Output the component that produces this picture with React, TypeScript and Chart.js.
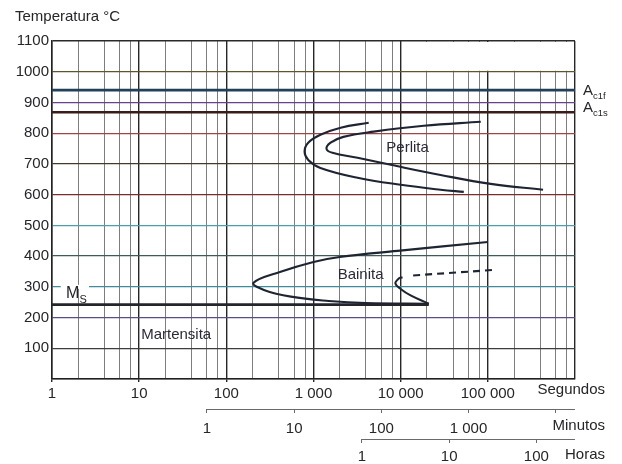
import React, { useEffect, useRef } from 'react';
import { Chart, registerables } from 'chart.js';

Chart.register(...registerables);

const FONT = '"Liberation Sans", Arial, Helvetica, sans-serif';
const INK = '#262629';
const CURVE = '#1f2433';

// ---- axis ticks ----
const secondDecades = [1, 10, 100, 1000, 10000, 100000];
const secondLabels = ['1', '10', '100', '1 000', '10 000', '100 000'];
const minorSteps = [2, 4, 6, 8];
const secondMax = 1000000;
const minuteTicks = [1, 10, 100, 1000, 10000];
const minuteLabels = ['1', '10', '100', '1 000', ''];
const hourTicks = [1, 10, 100];
const hourLabels = ['1', '10', '100'];
const tempTicks = [0, 100, 200, 300, 400, 500, 600, 700, 800, 900, 1000, 1100];
const tempLabels = ['', '100', '200', '300', '400', '500', '600', '700', '800', '900', '1000', '1100'];

// ---- series (time in seconds, temperature in °C) ----
const pearliteStartSec = [4300, 2050, 1200, 870, 790, 870, 1200, 3200, 10000, 28700, 53000];
const pearliteStartTemp = [834, 818, 795, 769, 740, 713, 687, 655, 632, 616, 609];
const pearliteEndSec = [83000, 18400, 4900, 2200, 1570, 1410, 1650, 3200, 7700, 28700, 108000, 430000];
const pearliteEndTemp = [837, 824, 805, 788, 769, 749, 736, 720, 697, 664, 635, 616];
const bainiteStartSec = [100000, 9200, 2000, 1000, 420, 205, 270, 550, 1500, 4000, 21000];
const bainiteStartTemp = [446, 417, 397, 381, 349, 313, 290, 268, 254, 247, 245];
const bainiteEndSec = [21000, 13000, 10000, 8700, 9500, 10500];
const bainiteEndTemp = [245, 272, 293, 311, 327, 331];
const bainiteDashSec = [13900, 117000];
const bainiteDashTemp = [337, 355];
const martensiteSec = [1, 21000];
const martensiteTemp = [242, 242];
const ac1fSec = [1, 1000000];
const ac1fTemp = [940, 940];
const ac1sSec = [1, 1000000];
const ac1sTemp = [868, 868];

// ---- text annotations (data coordinates) ----
const perlitaAt = { x: 12000, y: 752 };
const bainitaAt = { x: 3470, y: 339 };
const martensitaAt = { x: 26.6, y: 143 };
const msAt = { x: 1.45, y: 264 };
const msGap = [1.26, 2.66];
const msGridTemp = 300;
const ac1fLabelTemp = 925;
const ac1sLabelTemp = 870;
const blankCornerFrom = { x: 10000, y: 1000 };

const pts = (xs: number[], ys: number[]) => xs.map((x, i) => ({ x, y: ys[i] }));
const secondGrid: number[] = [];
secondDecades.forEach((d) => {
  secondGrid.push(d);
  minorSteps.forEach((m) => secondGrid.push(d * m));
});
secondGrid.push(secondMax);

const hGridColor: Record<number, string> = {
  0: '#222222',
  100: '#3d3d3d',
  200: '#5b4c86',
  300: '#3f8c9c',
  400: '#3f5a5a',
  500: '#4f9eab',
  600: '#7a2c2c',
  700: '#45382f',
  800: '#a04545',
  900: '#6a3f8c',
  1000: '#5e5430',
  1100: '#2a2a2a',
};

const annotate = {
  id: 'annotate',
  beforeDatasetsDraw(chart: any) {
    const { ctx, chartArea } = chart;
    const xs = chart.scales.x;
    const ys = chart.scales.y;
    const x0 = xs.getPixelForValue(blankCornerFrom.x) + 1.5;
    const y1 = ys.getPixelForValue(blankCornerFrom.y) - 1;
    ctx.save();
    ctx.fillStyle = '#ffffff';
    ctx.fillRect(x0, chartArea.top + 1, chartArea.right - 1 - x0, y1 - chartArea.top - 1);
    // gap in the 300 °C line for the Ms label
    const gx0 = xs.getPixelForValue(msGap[0]);
    const gx1 = xs.getPixelForValue(msGap[1]);
    const gy = ys.getPixelForValue(msGridTemp);
    ctx.fillRect(gx0, gy - 2, gx1 - gx0, 4);
    ctx.restore();
  },
  afterDraw(chart: any) {
    const { ctx, chartArea } = chart;
    const xs = chart.scales.x;
    const ys = chart.scales.y;
    const xm = chart.scales.xMin;
    const xh = chart.scales.xHr;
    ctx.save();
    ctx.fillStyle = INK;
    ctx.textBaseline = 'alphabetic';

    // title
    ctx.font = `15px ${FONT}`;
    ctx.textAlign = 'left';
    ctx.fillText('Temperatura °C', 15, 21);

    // region labels
    ctx.textAlign = 'center';
    ctx.textBaseline = 'middle';
    ctx.fillStyle = '#2a2a3a';
    ctx.fillText('Perlita', xs.getPixelForValue(perlitaAt.x), ys.getPixelForValue(perlitaAt.y));
    ctx.fillText('Bainita', xs.getPixelForValue(bainitaAt.x), ys.getPixelForValue(bainitaAt.y));
    ctx.fillText('Martensita', xs.getPixelForValue(martensitaAt.x), ys.getPixelForValue(martensitaAt.y));

    // Ms label
    ctx.fillStyle = INK;
    ctx.textAlign = 'left';
    ctx.textBaseline = 'alphabetic';
    const mx = xs.getPixelForValue(msAt.x);
    const my = ys.getPixelForValue(msAt.y);
    ctx.font = `16px ${FONT}`;
    ctx.fillText('M', mx, my);
    const mw = ctx.measureText('M').width;
    ctx.font = `11px ${FONT}`;
    ctx.fillText('S', mx + mw, my + 5);

    // A_c1f, A_c1s
    const ax = chartArea.right + 8;
    const drawA = (sub: string, temp: number) => {
      const y = ys.getPixelForValue(temp);
      ctx.font = `15px ${FONT}`;
      ctx.fillText('A', ax, y);
      const w = ctx.measureText('A').width;
      ctx.font = `9.5px ${FONT}`;
      ctx.fillText(sub, ax + w, y + 4);
    };
    drawA('c1f', ac1fLabelTemp);
    drawA('c1s', ac1sLabelTemp);

    // partial axis lines for minutes / hours
    ctx.strokeStyle = '#6a6a6a';
    ctx.lineWidth = 1;
    [xm, xh].forEach((s: any) => {
      ctx.beginPath();
      ctx.moveTo(s.getPixelForValue(1), s.top + 0.5);
      ctx.lineTo(chartArea.right, s.top + 0.5);
      ctx.stroke();
    });

    // unit names
    ctx.font = `15px ${FONT}`;
    ctx.textAlign = 'right';
    ctx.textBaseline = 'middle';
    const nameX = chartArea.right + 30;
    ctx.fillText('Segundos', nameX, xs.top + 11);
    ctx.fillText('Minutos', nameX, xm.top + 17);
    ctx.fillText('Horas', nameX, xh.top + 16);
    ctx.restore();
  },
};

const labelFor = (values: number[], labels: string[]) => (v: any) => {
  const i = values.indexOf(Number(v));
  return i >= 0 ? labels[i] : '';
};

export default function App() {
  const ref = useRef<HTMLCanvasElement | null>(null);

  useEffect(() => {
    if (!ref.current) return;
    const line = (data: any[], extra: any = {}) => ({
      data,
      borderColor: CURVE,
      borderWidth: 2.1,
      pointRadius: 0,
      tension: 0.4,
      fill: false,
      xAxisID: 'x',
      yAxisID: 'y',
      ...extra,
    });
    const chart = new Chart(ref.current, {
      type: 'line',
      data: {
        datasets: [
          line(pts(ac1fSec, ac1fTemp), { borderColor: '#23405a', borderWidth: 2.6, tension: 0 }),
          line(pts(ac1sSec, ac1sTemp), { borderColor: '#3a1c1c', borderWidth: 2.6, tension: 0 }),
          line(pts(martensiteSec, martensiteTemp), { borderColor: '#23252b', borderWidth: 2.6, tension: 0 }),
          line(pts(pearliteStartSec, pearliteStartTemp)),
          line(pts(pearliteEndSec, pearliteEndTemp)),
          line(pts(bainiteStartSec, bainiteStartTemp)),
          line(pts(bainiteEndSec, bainiteEndTemp)),
          line(pts(bainiteDashSec, bainiteDashTemp), { borderDash: [7, 5], tension: 0 }),
        ],
      },
      options: {
        responsive: false,
        animation: false,
        events: [],
        layout: { padding: { left: 0, right: 47, top: 41, bottom: 0 } },
        plugins: { legend: { display: false }, tooltip: { enabled: false }, title: { display: false } },
        scales: {
          x: {
            type: 'logarithmic',
            position: 'bottom',
            weight: 1,
            min: 1,
            max: secondMax,
            afterBuildTicks: (s: any) => {
              s.ticks = secondGrid.map((v) => ({ value: v }));
            },
            afterFit: (s: any) => {
              s.height = 30;
            },
            grid: {
              color: (c: any) => (secondDecades.includes(c.tick?.value) || c.tick?.value === secondMax ? '#262626' : '#6e6e6e'),
              lineWidth: (c: any) => (secondDecades.includes(c.tick?.value) || c.tick?.value === secondMax ? 1.4 : 0.9),
              tickColor: (c: any) => (secondDecades.includes(c.tick?.value) ? '#262626' : 'rgba(0,0,0,0)'),
              tickLength: 3,
            },
            border: { color: '#222', width: 1.5 },
            ticks: {
              autoSkip: false,
              maxRotation: 0,
              padding: 3,
              color: INK,
              font: { family: FONT, size: 15 },
              callback: labelFor(secondDecades, secondLabels),
            },
          },
          xMin: {
            type: 'logarithmic',
            position: 'bottom',
            weight: 2,
            min: 1 / 60,
            max: secondMax / 60,
            afterBuildTicks: (s: any) => {
              s.ticks = minuteTicks.map((v) => ({ value: v }));
            },
            afterFit: (s: any) => {
              s.height = 30;
            },
            grid: { drawOnChartArea: false, tickLength: 4, color: '#6a6a6a', lineWidth: 1 },
            border: { display: false },
            ticks: {
              autoSkip: false,
              maxRotation: 0,
              padding: 7,
              color: INK,
              font: { family: FONT, size: 15 },
              callback: labelFor(minuteTicks, minuteLabels),
            },
          },
          xHr: {
            type: 'logarithmic',
            position: 'bottom',
            weight: 3,
            min: 1 / 3600,
            max: secondMax / 3600,
            afterBuildTicks: (s: any) => {
              s.ticks = hourTicks.map((v) => ({ value: v }));
            },
            afterFit: (s: any) => {
              s.height = 25;
            },
            grid: { drawOnChartArea: false, tickLength: 4, color: '#6a6a6a', lineWidth: 1 },
            border: { display: false },
            ticks: {
              autoSkip: false,
              maxRotation: 0,
              padding: 5,
              color: INK,
              font: { family: FONT, size: 15 },
              callback: labelFor(hourTicks, hourLabels),
            },
          },
          y: {
            type: 'linear',
            position: 'left',
            min: 0,
            max: 1100,
            afterBuildTicks: (s: any) => {
              s.ticks = tempTicks.map((v) => ({ value: v }));
            },
            afterFit: (s: any) => {
              s.width = 52;
            },
            grid: {
              drawTicks: false,
              color: (c: any) => hGridColor[c.tick?.value] || '#444',
              lineWidth: (c: any) => (c.tick?.value === 1100 ? 1.5 : 1.2),
            },
            border: { color: '#222', width: 1.5 },
            ticks: {
              autoSkip: false,
              padding: 3,
              color: INK,
              font: { family: FONT, size: 15 },
              callback: labelFor(tempTicks, tempLabels),
            },
          },
        },
      },
      plugins: [annotate],
    } as any);
    return () => chart.destroy();
  }, []);

  return (
    <div style={{ position: 'fixed', left: 0, top: 0, width: 622, height: 464, background: '#fff' }}>
      <canvas ref={ref} width={622} height={464} style={{ display: 'block' }} />
    </div>
  );
}
